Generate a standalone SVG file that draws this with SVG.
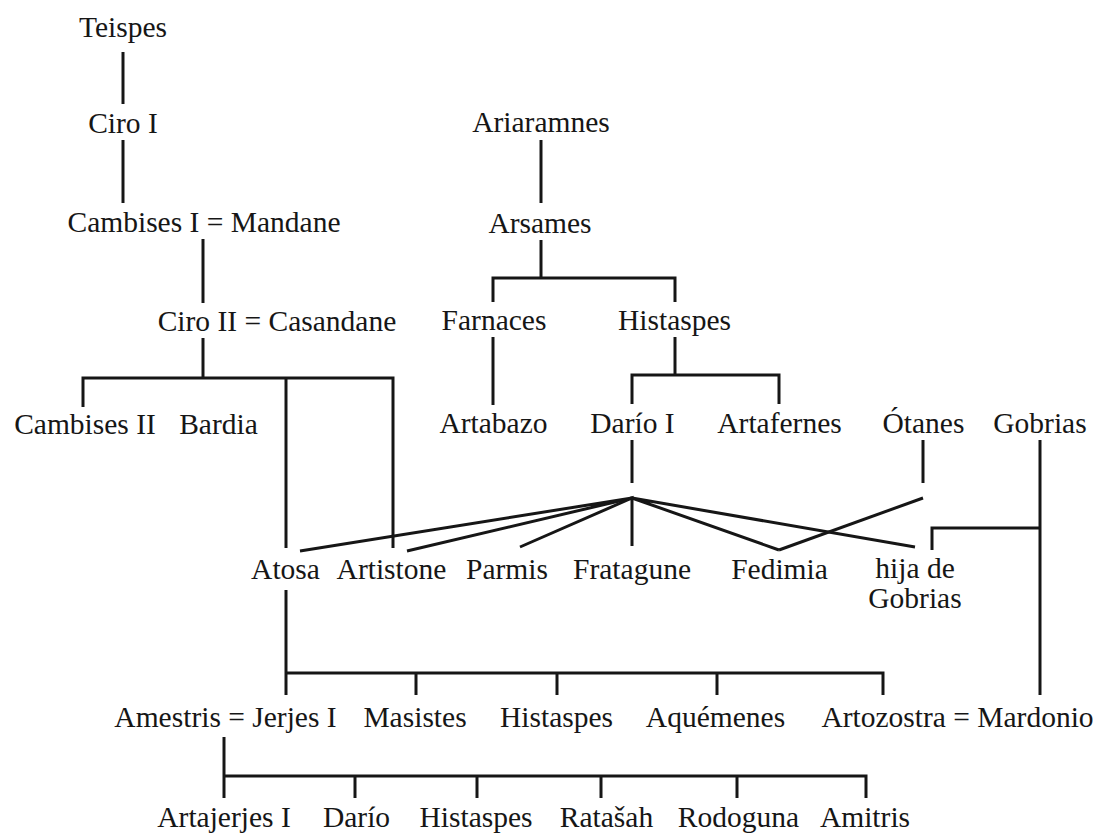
<svg xmlns="http://www.w3.org/2000/svg" width="1106" height="834" viewBox="0 0 1106 834">
<style>
text{font-family:'Liberation Serif',Tinos,'DejaVu Serif',serif;font-size:29.5px;fill:#161616;text-anchor:middle}
.c path{fill:none;stroke:#161616;stroke-width:3;stroke-linejoin:miter;stroke-linecap:butt}
</style>
<rect width="1106" height="834" fill="#fff"/>
<g class="c" id="connectors">
<path d="M123,52V104"/>
<path d="M123,140V203"/>
<path d="M203,239V303"/>
<path d="M203,338V378"/>
<path d="M83,407V378H393V548"/>
<path d="M286,378V548"/>
<path d="M541,140V203"/>
<path d="M541,240V278"/>
<path d="M493,302V278H675V302"/>
<path d="M493,337V405"/>
<path d="M675,337V375"/>
<path d="M632,404V375H779V404"/>
<path d="M632,440V483"/>
<path d="M300,551L632,498L407,551"/>
<path d="M520,547L632,498V546"/>
<path d="M779,550L632,498L915,547"/>
<path d="M923,440V483"/>
<path d="M923,498L779,550"/>
<path d="M1040,440V695"/>
<path d="M932,550V528H1040"/>
<path d="M286,590V695"/>
<path d="M286,673H883V695"/>
<path d="M416,673V695M557,673V695M717,673V695"/>
<path d="M224,737V798"/>
<path d="M224,776H866V798"/>
<path d="M355,776V798M477,776V798M601,776V798M737,776V798"/>
</g>
<g id="n-teispes"><text x="123" y="37">Teispes</text></g>
<g id="n-ciro1"><text x="123" y="133">Ciro I</text></g>
<g id="n-cambises1"><text x="204" y="232">Cambises I = Mandane</text></g>
<g id="n-ciro2"><text x="277" y="331">Ciro II = Casandane</text></g>
<g id="n-ariaramnes"><text x="541" y="132">Ariaramnes</text></g>
<g id="n-arsames"><text x="540" y="233">Arsames</text></g>
<g id="n-farnaces"><text x="494" y="330">Farnaces</text></g>
<g id="n-histaspes1"><text x="674.5" y="330">Histaspes</text></g>
<g id="n-cambises2"><text x="85" y="434">Cambises II</text></g>
<g id="n-bardia"><text x="218.5" y="434">Bardia</text></g>
<g id="n-artabazo"><text x="493.5" y="433">Artabazo</text></g>
<g id="n-dario1"><text x="632.5" y="433">Darío I</text></g>
<g id="n-artafernes"><text x="779.5" y="433">Artafernes</text></g>
<g id="n-otanes"><text x="923.5" y="433">Ótanes</text></g>
<g id="n-gobrias"><text x="1040" y="433">Gobrias</text></g>
<g id="n-atosa"><text x="285.5" y="579">Atosa</text></g>
<g id="n-artistone"><text x="391.5" y="579">Artistone</text></g>
<g id="n-parmis"><text x="507" y="579">Parmis</text></g>
<g id="n-fratagune"><text x="632" y="579">Fratagune</text></g>
<g id="n-fedimia"><text x="779.5" y="579">Fedimia</text></g>
<g id="n-hija"><text x="915" y="578">hija de</text><text x="915" y="608">Gobrias</text></g>
<g id="n-jerjes"><text x="225.5" y="727">Amestris = Jerjes I</text></g>
<g id="n-masistes"><text x="415" y="727">Masistes</text></g>
<g id="n-histaspes2"><text x="556.5" y="727">Histaspes</text></g>
<g id="n-aquemenes"><text x="715.5" y="727">Aquémenes</text></g>
<g id="n-artozostra"><text x="957.5" y="727">Artozostra = Mardonio</text></g>
<g id="n-artajerjes"><text x="224" y="827">Artajerjes I</text></g>
<g id="n-dario"><text x="356.5" y="827">Darío</text></g>
<g id="n-histaspes3"><text x="476" y="827">Histaspes</text></g>
<g id="n-ratasah"><text x="606.5" y="827">Ratašah</text></g>
<g id="n-rodoguna"><text x="738.5" y="827">Rodoguna</text></g>
<g id="n-amitris"><text x="865" y="827">Amitris</text></g>
</svg>
